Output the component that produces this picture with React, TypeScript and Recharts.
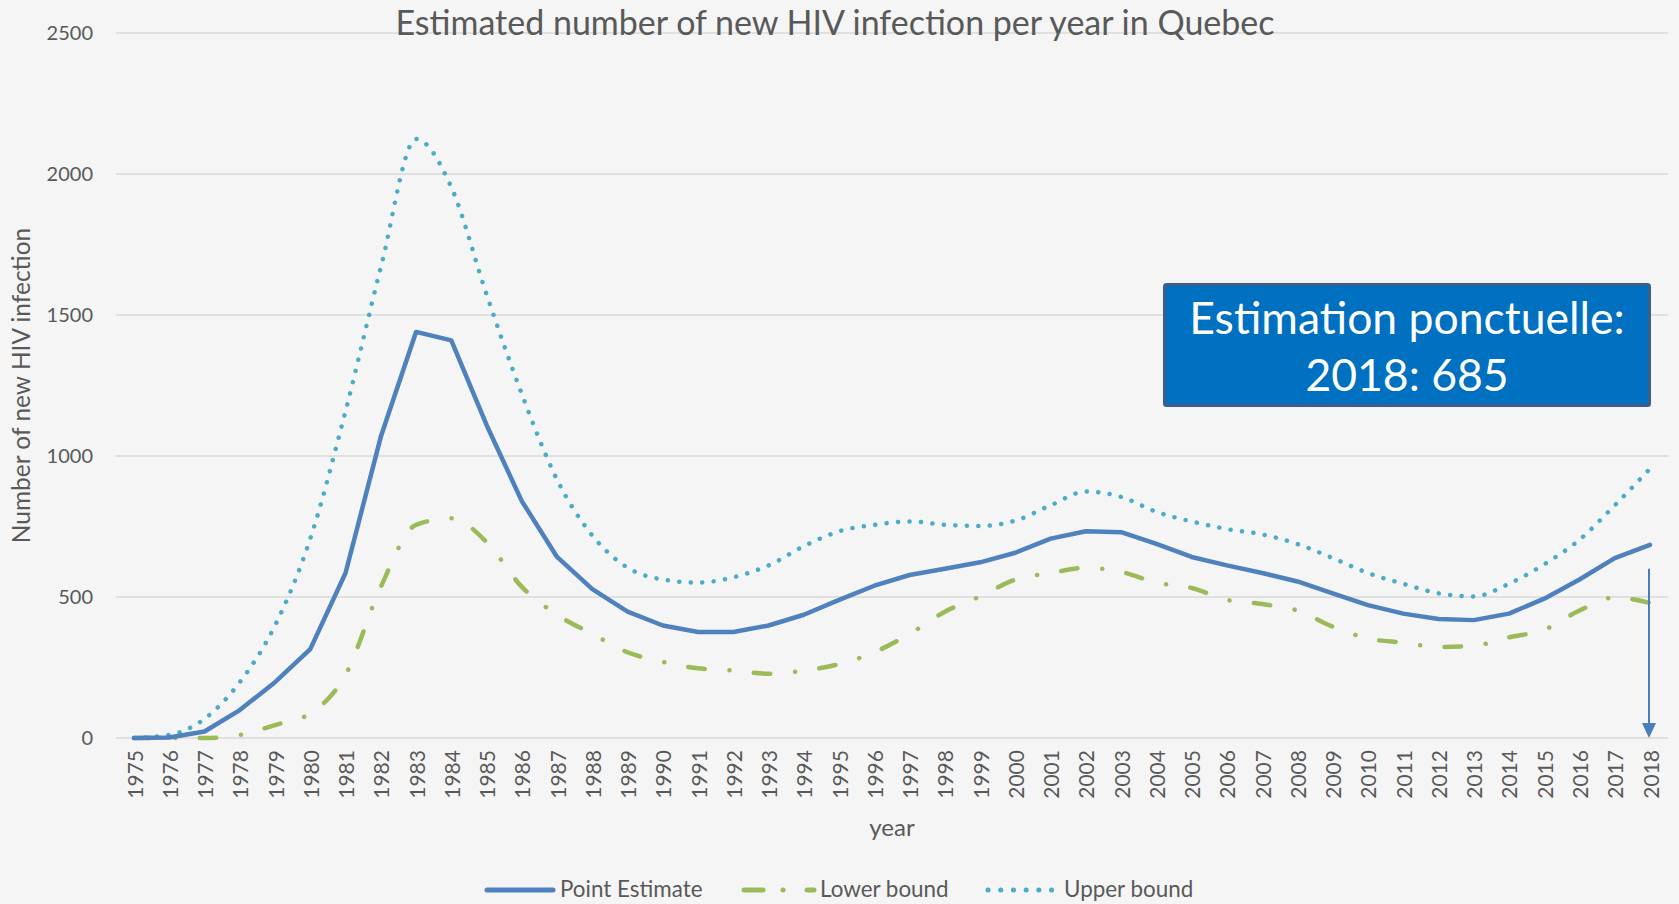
import React from 'react'
import { LineChart, Line, XAxis, YAxis, CartesianGrid, ReferenceLine } from 'recharts'

const years = [
  '1975', '1976', '1977', '1978', '1979', '1980', '1981', '1982', '1983', '1984',
  '1985', '1986', '1987', '1988', '1989', '1990', '1991', '1992', '1993', '1994',
  '1995', '1996', '1997', '1998', '1999', '2000', '2001', '2002', '2003', '2004',
  '2005', '2006', '2007', '2008', '2009', '2010', '2011', '2012', '2013', '2014',
  '2015', '2016', '2017', '2018',
]

const pointEstimate = [
  0, 2, 23, 99, 198, 315, 585, 1068, 1440, 1410,
  1110, 840, 642, 528, 448, 399, 376, 376, 399, 437,
  490, 540, 578, 600, 623, 657, 707, 733, 730, 688,
  642, 612, 585, 555, 513, 471, 441, 422, 418, 441,
  494, 562, 638, 685,
]

const lowerBound = [
  0, 0, 0, 11, 46, 87, 224, 536, 756, 779,
  695, 536, 437, 369, 304, 270, 247, 239, 228, 239,
  262, 304, 369, 448, 502, 562, 585, 604, 589, 551,
  532, 490, 475, 452, 395, 353, 338, 323, 327, 357,
  384, 452, 498, 479,
]

const upperBound = [
  0, 11, 68, 198, 399, 707, 1159, 1668, 2124, 1953,
  1573, 1220, 916, 718, 604, 562, 551, 570, 612, 680,
  733, 756, 768, 756, 752, 771, 825, 874, 855, 802,
  768, 741, 722, 688, 638, 585, 547, 513, 502, 547,
  616, 703, 825, 955,
]

const yTicks = [0, 500, 1000, 1500, 2000, 2500]
const seriesNames = ['Point Estimate', 'Lower bound', 'Upper bound']
const arrowYear = '2018'
const arrowTop = 600

const data = years.map((year, i) => ({
  year,
  point: pointEstimate[i],
  lower: lowerBound[i],
  upper: upperBound[i],
}))

const FONT = 'Lato, "Open Sans", sans-serif'
const TEXT = '#595959'
const BLUE = '#4F81BD'
const GREEN = '#9BBB59'
const AQUA = '#4BACC6'
const DASH_DOT = '16.5 24.8 0.1 24.4'
const DOTS = '0.1 11.4'

function YearTick(props: any) {
  const { x, y, payload } = props
  return (
    <text
      x={x}
      y={y}
      transform={`rotate(-90, ${x}, ${y})`}
      textAnchor="end"
      dominantBaseline="central"
      fill={TEXT}
      fontSize={21}
      fontFamily={FONT}
    >
      {payload.value}
    </text>
  )
}

function ArrowShape(props: any) {
  const { x1, y1, x2, y2 } = props
  const head = 15
  return (
    <g>
      <line x1={x1 - 1} y1={y1} x2={x2 - 1} y2={y2 - head} stroke="#4A7EBB" strokeWidth={2} />
      <polygon
        points={`${x2 - 8},${y2 - head} ${x2 + 6},${y2 - head} ${x2 - 1},${y2}`}
        fill="#4A7EBB"
      />
    </g>
  )
}

function Legend() {
  const y = 890
  return (
    <g fontFamily={FONT} fontSize={22.4} fill={TEXT}>
      <line x1={487} y1={y} x2={553} y2={y} stroke={BLUE} strokeWidth={5} strokeLinecap="round" />
      <text x={560} y={y + 7}>{seriesNames[0]}</text>
      <line x1={744} y1={y} x2={814} y2={y} stroke={GREEN} strokeWidth={5} strokeLinecap="round" strokeDasharray="19 20 0.1 24" />
      <text x={820} y={y + 7}>{seriesNames[1]}</text>
      <line x1={988} y1={y} x2={1056} y2={y} stroke={AQUA} strokeWidth={5} strokeLinecap="round" strokeDasharray="0.1 12.6" />
      <text x={1064} y={y + 7}>{seriesNames[2]}</text>
    </g>
  )
}

export default function App() {
  return (
    <div style={{ position: 'fixed', left: 0, top: 0, width: 1679, height: 904, background: '#F5F5F5' }}>
      <LineChart
        width={1679}
        height={904}
        data={data}
        margin={{ top: 33, right: 11, left: 0, bottom: 86 }}
      >
        <CartesianGrid vertical={false} stroke="#D9D9D9" strokeWidth={1.5} />
        <XAxis
          dataKey="year"
          interval={0}
          height={80}
          padding={{ left: 18, right: 18 }}
          axisLine={false}
          tickLine={false}
          tickSize={0}
          tickMargin={12}
          tick={<YearTick />}
          label={{
            content: ({ viewBox }: any) => (
              <text
                x={viewBox.x + viewBox.width / 2}
                y={836}
                textAnchor="middle"
                fill={TEXT}
                fontSize={24}
                fontFamily={FONT}
              >
                year
              </text>
            ),
          }}
        />
        <YAxis
          width={116}
          domain={[0, 2500]}
          ticks={yTicks}
          axisLine={false}
          tickLine={false}
          tickSize={0}
          tickMargin={23}
          tick={{ fill: TEXT, fontSize: 20, fontFamily: FONT }}
          label={{
            content: ({ viewBox }: any) => {
              const cx = viewBox.x + 20
              const cy = viewBox.y + viewBox.height / 2
              return (
                <text
                  x={cx}
                  y={cy}
                  transform={`rotate(-90, ${cx}, ${cy})`}
                  textAnchor="middle"
                  dominantBaseline="central"
                  fill={TEXT}
                  fontSize={24.5}
                  fontFamily={FONT}
                >
                  Number of new HIV infection
                </text>
              )
            },
          }}
        />
        <Line
          type="monotone"
          dataKey="lower"
          name={seriesNames[1]}
          stroke={GREEN}
          strokeWidth={4.5}
          strokeDasharray={DASH_DOT}
          strokeLinecap="round"
          dot={false}
          activeDot={false}
          isAnimationActive={false}
        />
        <Line
          type="monotone"
          dataKey="upper"
          name={seriesNames[2]}
          stroke={AQUA}
          strokeWidth={4.5}
          strokeDasharray={DOTS}
          strokeLinecap="round"
          dot={false}
          activeDot={false}
          isAnimationActive={false}
        />
        <Line
          type="linear"
          dataKey="point"
          name={seriesNames[0]}
          stroke={BLUE}
          strokeWidth={4.5}
          strokeLinejoin="round"
          strokeLinecap="round"
          dot={false}
          activeDot={false}
          isAnimationActive={false}
        />
        <ReferenceLine
          segment={[{ x: arrowYear, y: arrowTop }, { x: arrowYear, y: 0 }]}
          shape={ArrowShape}
        />
      </LineChart>
      <svg
        width={1679}
        height={904}
        style={{ position: 'absolute', left: 0, top: 0, pointerEvents: 'none' }}
      >
        <text x={835} y={35} textAnchor="middle" fill={TEXT} fontSize={34} fontFamily={FONT}>
          Estimated number of new HIV infection per year in Quebec
        </text>
        <rect x={1164.5} y={284.5} width={485} height={121} rx={2} fill="#0070C0" stroke="#3C5E8B" strokeWidth={3} />
        <g fill="#FFFFFF" fontSize={44.5} fontFamily={FONT} textAnchor="middle">
          <text x={1407} y={334}>Estimation ponctuelle:</text>
          <text x={1407} y={391}>2018: 685</text>
        </g>
        <Legend />
      </svg>
    </div>
  )
}
